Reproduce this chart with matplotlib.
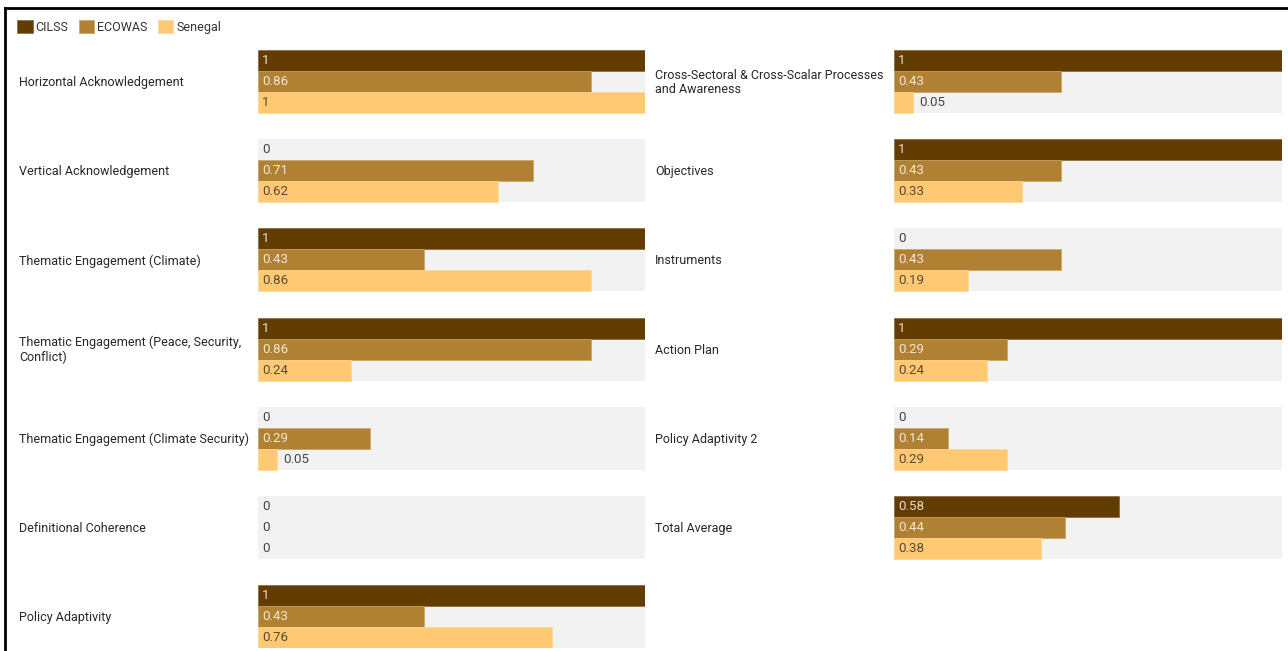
import matplotlib
matplotlib.use("Agg")
import matplotlib.pyplot as plt
import matplotlib.transforms as mtransforms
from matplotlib.patches import Patch
from matplotlib.lines import Line2D

plt.rcParams['font.family'] = ['Roboto', 'DejaVu Sans']

series = ["CILSS", "ECOWAS", "Senegal"]
colors = ["#633c01", "#b08033", "#ffc974"]
edge_colors = ["#86673c", "#caa365", "#ffd694"]
text_on = ["#e8dccb", "#f3e7d3", "#5b4a33"]

left_cats = ["Horizontal Acknowledgement", "Vertical Acknowledgement",
             "Thematic Engagement (Climate)",
             "Thematic Engagement (Peace, Security,\nConflict)",
             "Thematic Engagement (Climate Security)",
             "Definitional Coherence", "Policy Adaptivity"]
left_cilss = [1, 0, 1, 1, 0, 0, 1]
left_ecowas = [0.86, 0.71, 0.43, 0.86, 0.29, 0, 0.43]
left_senegal = [1, 0.62, 0.86, 0.24, 0.05, 0, 0.76]

right_cats = ["Cross-Sectoral & Cross-Scalar Processes\nand Awareness",
              "Objectives", "Instruments", "Action Plan",
              "Policy Adaptivity 2", "Total Average"]
right_cilss = [1, 1, 0, 1, 0, 0.58]
right_ecowas = [0.43, 0.43, 0.43, 0.29, 0.14, 0.44]
right_senegal = [0.05, 0.33, 0.19, 0.24, 0.29, 0.38]

W, H = 1288, 651
fig = plt.figure(figsize=(W / 100, H / 100), dpi=100)
fig.patch.set_facecolor("white")

pitch = 89.17
bar_h = 21.0
grp_h = 3 * bar_h
top_px = 50
ngroups = 7
span = (ngroups - 1) * pitch + grp_h


def fmt(v):
    s = f"{v:.2f}".rstrip("0").rstrip(".")
    return s


def panel(x0_px, x1_px, label_x_px, cats, vals):
    ax = fig.add_axes([x0_px / W, 1 - (top_px + span) / H,
                       (x1_px - x0_px) / W, span / H])
    ax.set_xlim(0, 1)
    ax.set_ylim(span, 0)
    ax.axis("off")
    n = len(cats)
    tops = [i * pitch for i in range(n)]
    ax.barh([t + grp_h / 2 for t in tops], [1] * n, height=grp_h,
            left=0, color="#f2f2f2", edgecolor="none", zorder=0)
    lbl_tr = mtransforms.blended_transform_factory(fig.transFigure, ax.transData)
    for i, cat in enumerate(cats):
        ax.text(label_x_px / W, tops[i] + grp_h / 2 + 1, cat, transform=lbl_tr,
                ha="left", va="center", fontsize=9, color="#262626",
                linespacing=1.15)
    for j, sv in enumerate(vals):
        ys = [t + (j + 0.5) * bar_h for t in tops]
        ax.barh(ys, sv, height=bar_h, color=colors[j],
                edgecolor=[edge_colors[j] if v > 0 else "none" for v in sv],
                linewidth=0.5, zorder=2)
        for y, v in zip(ys, sv):
            wpx = v * (x1_px - x0_px)
            if wpx > 40:
                ax.annotate(fmt(v), (0, y), xytext=(3, 0),
                            textcoords="offset points", ha="left",
                            va="center", fontsize=9.6, color=text_on[j],
                            zorder=3)
            elif v == 0:
                ax.annotate(fmt(v), (0, y), xytext=(3, 0),
                            textcoords="offset points", ha="left",
                            va="center", fontsize=9.6, color="#444444",
                            zorder=3)
            else:
                ax.annotate(fmt(v), (v, y), xytext=(4, 0),
                            textcoords="offset points", ha="left",
                            va="center", fontsize=9.6, color="#444444",
                            zorder=3)
    return ax


panel(258, 645, 19, left_cats, [left_cilss, left_ecowas, left_senegal])
panel(894, 1282, 655, right_cats, [right_cilss, right_ecowas, right_senegal])

handles = [Patch(facecolor=c, edgecolor=e, linewidth=0.5)
           for c, e in zip(colors, edge_colors)]
fig.legend(handles, series, loc="upper left",
           bbox_to_anchor=(17 / W, 1 - 20 / H), ncol=3, frameon=False,
           fontsize=9.0, handlelength=1.25, handleheight=1.25,
           handletextpad=0.25, columnspacing=0.8, borderaxespad=0,
           borderpad=0, labelcolor="#333333")

fig.add_artist(Line2D([5 / W, 5 / W], [0, 1 - 8 / H], transform=fig.transFigure,
                      color="black", linewidth=2))
fig.add_artist(Line2D([5 / W, 1], [1 - 8 / H, 1 - 8 / H], transform=fig.transFigure,
                      color="black", linewidth=2))

fig.savefig("out.png", dpi=100, facecolor="white")
